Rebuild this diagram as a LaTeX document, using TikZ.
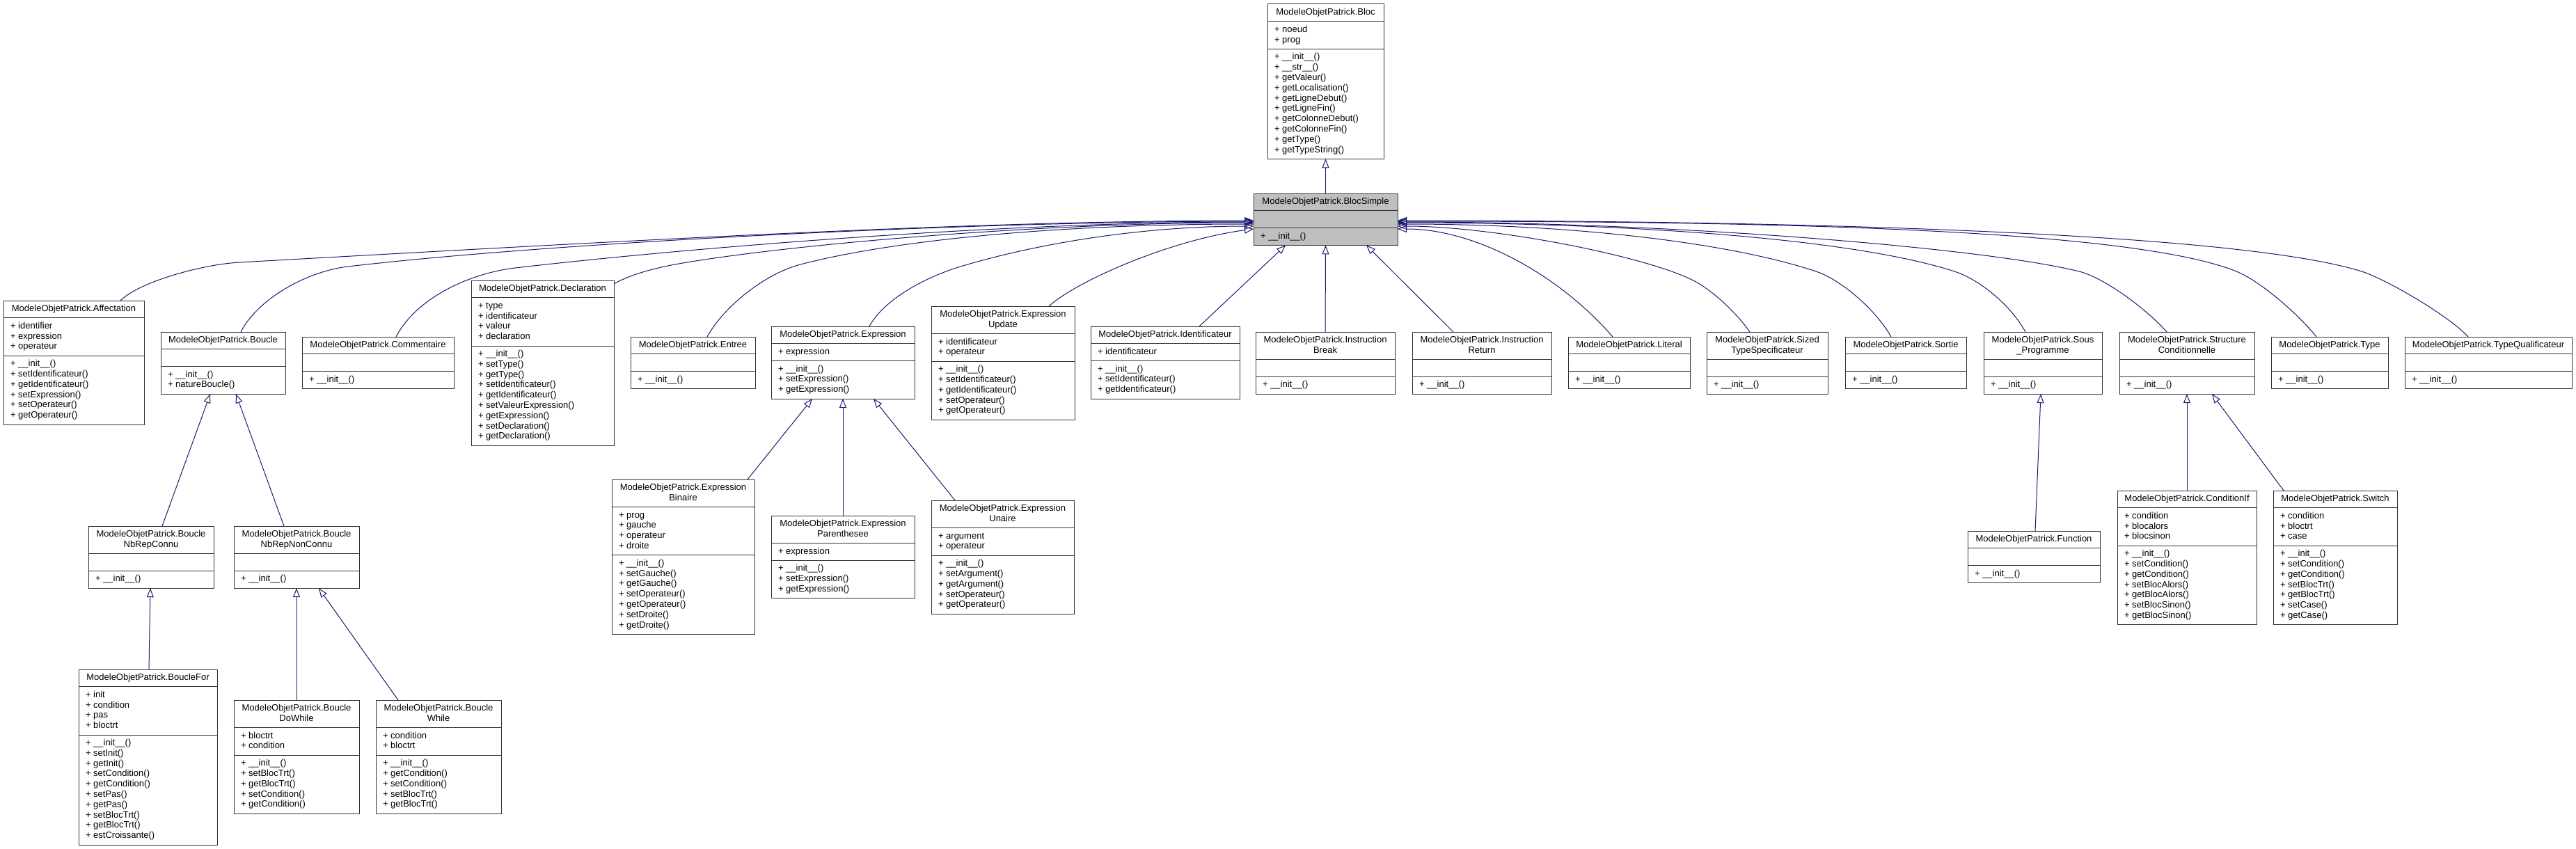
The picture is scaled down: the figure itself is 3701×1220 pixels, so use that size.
\documentclass[tikz,border=0pt]{standalone}
\usepackage{fontspec}
\setmainfont{Liberation Sans}
\usetikzlibrary{arrows.meta}
\definecolor{edgeblue}{HTML}{191970}
\definecolor{boxgray}{HTML}{BFBFBF}
\newcount\umlcnt
\def\boxfill{white}
\tikzset{
  classbox/.style={draw=black!80, line width=1pt, fill=\boxfill, inner sep=0pt, outer sep=0pt, rectangle},
  sepline/.style={draw=black!80, line width=1pt},
  txt/.style={font=\fontsize{13pt}{14.8pt}\selectfont, inner sep=0pt, outer sep=0pt, text=black},
  inh/.style={draw=edgeblue, line width=1pt, -{Triangle[open, length=13pt, width=10pt]}},
}
% #1 name, #2 x, #3 y, #4 width, #5 title lines, #6 title list, #7 attr count, #8 attrs, #9 methods
\newcommand\umlclass[9]{%
  \global\umlcnt=0
  \foreach \q in {#9}{\global\advance\umlcnt by 1}%
  \pgfmathsetmacro\hT{14.8*#5+10}%
  \pgfmathsetmacro\hA{(#7==0)*24.8+(#7>0)*(14.8*#7+10)}%
  \pgfmathsetmacro\hM{14.8*\the\umlcnt+10}%
  \pgfmathsetmacro\hH{\hT+\hA+\hM}%
  \node[classbox, minimum width=#4pt, minimum height={\hH pt}, anchor=north west] (#1) at (#2,#3) {};
  \draw[sepline] (#2,#3+\hT) -- ++(#4,0);
  \draw[sepline] (#2,#3+\hT+\hA) -- ++(#4,0);
  \foreach \q [count=\i] in {#6}{\node[txt, anchor=base] (#1-t\i) at ({#2+#4/2},{#3+15.5+14.8*(\i-1)}) {\q};}
  \ifnum#7>0 \foreach \q [count=\i] in {#8}{\node[txt, anchor=base west] (#1-a\i) at ({#2+10},{#3+\hT+15.5+14.8*(\i-1)}) {+ \q};}\fi
  \foreach \q [count=\i] in {#9}{\node[txt, anchor=base west] (#1-m\i) at ({#2+10},{#3+\hT+\hA+15.5+14.8*(\i-1)}) {+ \q};}
}
\begin{document}
\begin{tikzpicture}[x=1pt,y=-1pt]
\fill[white] (0,0) rectangle (3701,1220);
\useasboundingbox (0,0) rectangle (3701,1220);

\umlclass{bloc}{1821}{6}{167}{1}{ModeleObjetPatrick.Bloc}{2}{noeud,prog}{\_\_init\_\_(),\_\_str\_\_(),getValeur(),getLocalisation(),getLigneDebut(),getLigneFin(),getColonneDebut(),getColonneFin(),getType(),getTypeString()}
\def\boxfill{boxgray}
\umlclass{blocsimple}{1801}{278}{207}{1}{ModeleObjetPatrick.BlocSimple}{0}{}{\_\_init\_\_()}
\def\boxfill{white}

\umlclass{affectation}{5}{432}{202}{1}{ModeleObjetPatrick.Affectation}{3}{identifier,expression,operateur}{\_\_init\_\_(),setIdentificateur(),getIdentificateur(),setExpression(),setOperateur(),getOperateur()}
\umlclass{boucle}{231}{477}{179}{1}{ModeleObjetPatrick.Boucle}{0}{}{\_\_init\_\_(),natureBoucle()}
\umlclass{commentaire}{434}{484}{218}{1}{ModeleObjetPatrick.Commentaire}{0}{}{\_\_init\_\_()}
\umlclass{declaration}{677}{403}{205}{1}{ModeleObjetPatrick.Declaration}{4}{type,identificateur,valeur,declaration}{\_\_init\_\_(),setType(),getType(),setIdentificateur(),getIdentificateur(),setValeurExpression(),getExpression(),setDeclaration(),getDeclaration()}
\umlclass{entree}{906}{484}{179}{1}{ModeleObjetPatrick.Entree}{0}{}{\_\_init\_\_()}
\umlclass{expression}{1108}{469}{206}{1}{ModeleObjetPatrick.Expression}{1}{expression}{\_\_init\_\_(),setExpression(),getExpression()}
\umlclass{exprupdate}{1338}{440}{206}{2}{ModeleObjetPatrick.Expression,Update}{2}{identificateur,operateur}{\_\_init\_\_(),setIdentificateur(),getIdentificateur(),setOperateur(),getOperateur()}
\umlclass{identificateur}{1567}{469}{214}{1}{ModeleObjetPatrick.Identificateur}{1}{identificateur}{\_\_init\_\_(),setIdentificateur(),getIdentificateur()}
\umlclass{instrbreak}{1804}{477}{200}{2}{ModeleObjetPatrick.Instruction,Break}{0}{}{\_\_init\_\_()}
\umlclass{instrreturn}{2029}{477}{200}{2}{ModeleObjetPatrick.Instruction,Return}{0}{}{\_\_init\_\_()}
\umlclass{literal}{2253}{484}{175}{1}{ModeleObjetPatrick.Literal}{0}{}{\_\_init\_\_()}
\umlclass{sized}{2452}{477}{174}{2}{ModeleObjetPatrick.Sized,TypeSpecificateur}{0}{}{\_\_init\_\_()}
\umlclass{sortie}{2651}{484}{174}{1}{ModeleObjetPatrick.Sortie}{0}{}{\_\_init\_\_()}
\umlclass{sousprog}{2850}{477}{170}{2}{ModeleObjetPatrick.Sous,\_Programme}{0}{}{\_\_init\_\_()}
\umlclass{structcond}{3045}{477}{194}{2}{ModeleObjetPatrick.Structure,Conditionnelle}{0}{}{\_\_init\_\_()}
\umlclass{typecls}{3263}{484}{168}{1}{ModeleObjetPatrick.Type}{0}{}{\_\_init\_\_()}
\umlclass{typequal}{3455}{484}{240}{1}{ModeleObjetPatrick.TypeQualificateur}{0}{}{\_\_init\_\_()}

\umlclass{nbrepconnu}{127}{756}{180}{2}{ModeleObjetPatrick.Boucle,NbRepConnu}{0}{}{\_\_init\_\_()}
\umlclass{nbrepnonconnu}{336}{756}{180}{2}{ModeleObjetPatrick.Boucle,NbRepNonConnu}{0}{}{\_\_init\_\_()}
\umlclass{bouclefor}{113}{962}{199}{1}{ModeleObjetPatrick.BoucleFor}{4}{init,condition,pas,bloctrt}{\_\_init\_\_(),setInit(),getInit(),setCondition(),getCondition(),setPas(),getPas(),setBlocTrt(),getBlocTrt(),estCroissante()}
\umlclass{dowhile}{336}{1006}{180}{2}{ModeleObjetPatrick.Boucle,DoWhile}{2}{bloctrt,condition}{\_\_init\_\_(),setBlocTrt(),getBlocTrt(),setCondition(),getCondition()}
\umlclass{bwhile}{540}{1006}{180}{2}{ModeleObjetPatrick.Boucle,While}{2}{condition,bloctrt}{\_\_init\_\_(),getCondition(),setCondition(),setBlocTrt(),getBlocTrt()}

\umlclass{binaire}{879}{689}{205}{2}{ModeleObjetPatrick.Expression,Binaire}{4}{prog,gauche,operateur,droite}{\_\_init\_\_(),setGauche(),getGauche(),setOperateur(),getOperateur(),setDroite(),getDroite()}
\umlclass{parenth}{1108}{741}{206}{2}{ModeleObjetPatrick.Expression,Parenthesee}{1}{expression}{\_\_init\_\_(),setExpression(),getExpression()}
\umlclass{unaire}{1338}{719}{205}{2}{ModeleObjetPatrick.Expression,Unaire}{2}{argument,operateur}{\_\_init\_\_(),setArgument(),getArgument(),setOperateur(),getOperateur()}

\umlclass{function}{2827}{763}{190}{1}{ModeleObjetPatrick.Function}{0}{}{\_\_init\_\_()}
\umlclass{conditionif}{3042}{705}{200}{1}{ModeleObjetPatrick.ConditionIf}{3}{condition,blocalors,blocsinon}{\_\_init\_\_(),setCondition(),getCondition(),setBlocAlors(),getBlocAlors(),setBlocSinon(),getBlocSinon()}
\umlclass{switchcls}{3266}{705}{178}{1}{ModeleObjetPatrick.Switch}{3}{condition,bloctrt,case}{\_\_init\_\_(),setCondition(),getCondition(),setBlocTrt(),getBlocTrt(),setCase(),getCase()}

% inheritance edges
\draw[inh] (blocsimple.north) -- (bloc.south);
\draw[inh] (instrbreak.north) -- (blocsimple.south);
\draw[inh] ([xshift=49pt]identificateur.north) -- ([xshift=-57.5pt]blocsimple.south);
\draw[inh] ([xshift=-41pt]instrreturn.north) -- ([xshift=58.5pt]blocsimple.south);

% left side curves
\draw[inh] ([xshift=67pt]affectation.north) .. controls (200,405) and (290,380) .. (344,377)
  .. controls (900,346) and (1400,317) .. ([yshift=-1.8pt]blocsimple.west);
\draw[inh] ([xshift=25.5pt]boucle.north) .. controls (370,430) and (440,390) .. (500,383)
  .. controls (800,348) and (1400,318) .. ([yshift=-2.8pt]blocsimple.west);
\draw[inh] ([xshift=26pt]commentaire.north) .. controls (600,425) and (680,392) .. (740,385)
  .. controls (1000,355) and (1450,319) .. ([yshift=-3.8pt]blocsimple.west);
\draw[inh] ([yshift=-5pt]declaration.north east) .. controls (910,392) and (950,383) .. (987,377)
  .. controls (1150,350) and (1500,320) .. ([yshift=-4.8pt]blocsimple.west);
\draw[inh] ([xshift=20.5pt]entree.north) .. controls (1040,440) and (1100,393) .. (1150,380)
  .. controls (1300,341) and (1550,322) .. ([yshift=-6.8pt]blocsimple.west);
\draw[inh] ([xshift=38pt]expression.north) .. controls (1270,430) and (1330,398) .. (1380,383)
  .. controls (1500,347) and (1650,325) .. ([yshift=-9.8pt]blocsimple.west);
\draw[inh] ([xshift=66pt]exprupdate.north) .. controls (1545,405) and (1680,345) .. ([yshift=-13.8pt]blocsimple.west);

% right side curves
\draw[inh] ([xshift=-23.5pt]literal.north) .. controls (2240,395) and (2120,329) .. ([yshift=-13.8pt]blocsimple.east);
\draw[inh] ([xshift=-25pt]sized.north) .. controls (2495,450) and (2465,422) .. (2440,407)
  .. controls (2380,371) and (2150,325) .. ([yshift=-9.8pt]blocsimple.east);
\draw[inh] ([xshift=-21pt]sortie.north) .. controls (2695,445) and (2645,402) .. (2609,390)
  .. controls (2480,347) and (2250,322) .. ([yshift=-6.8pt]blocsimple.east);
\draw[inh] ([xshift=-25pt]sousprog.north) .. controls (2890,440) and (2845,402) .. (2808,390)
  .. controls (2650,339) and (2300,320) .. ([yshift=-4.8pt]blocsimple.east);
\draw[inh] ([xshift=-29pt]structcond.north) .. controls (3080,440) and (3020,398) .. (2987,390)
  .. controls (2850,356) and (2400,319) .. ([yshift=-3.8pt]blocsimple.east);
\draw[inh] ([xshift=-19pt]typecls.north) .. controls (3305,455) and (3250,405) .. (3213,390)
  .. controls (3050,324) and (2450,318) .. ([yshift=-2.8pt]blocsimple.east);
\draw[inh] ([xshift=-29pt]typequal.north) .. controls (3520,455) and (3430,402) .. (3393,390)
  .. controls (3200,330) and (2500,317) .. ([yshift=-1.8pt]blocsimple.east);

% sub-hierarchies
\draw[inh] ([xshift=16pt]nbrepconnu.north) -- ([xshift=-18.5pt]boucle.south);
\draw[inh] ([xshift=-18pt]nbrepnonconnu.north) -- ([xshift=18.5pt]boucle.south);
\draw[inh] ([xshift=1.5pt]bouclefor.north) -- ([xshift=-1pt]nbrepconnu.south);
\draw[inh] (dowhile.north) -- (nbrepnonconnu.south);
\draw[inh] ([xshift=-58pt]bwhile.north) -- ([xshift=32pt]nbrepnonconnu.south);
\draw[inh] ([xshift=92.5pt]binaire.north) -- ([xshift=-44pt]expression.south);
\draw[inh] (parenth.north) -- (expression.south);
\draw[inh] ([xshift=-68.5pt]unaire.north) -- ([xshift=44pt]expression.south);
\draw[inh] ([xshift=2pt]function.north) -- ([xshift=-3pt]sousprog.south);
\draw[inh] (conditionif.north) -- (structcond.south);
\draw[inh] ([xshift=-74pt]switchcls.north) -- ([xshift=36pt]structcond.south);
\end{tikzpicture}
\end{document}
